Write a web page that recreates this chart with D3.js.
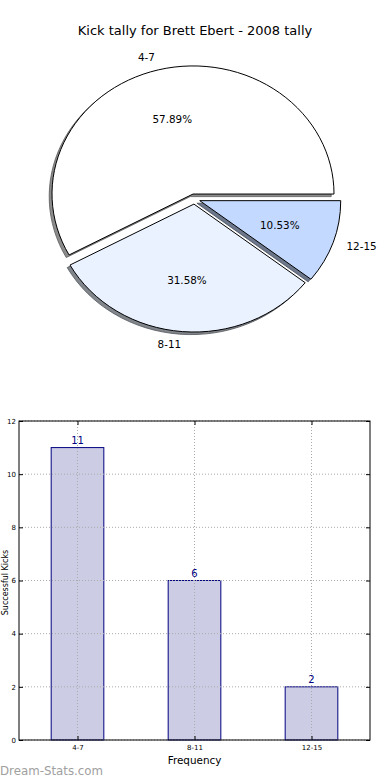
<!DOCTYPE html>
<html><head><meta charset="utf-8">
<script src="https://cdn.jsdelivr.net/npm/d3@7"></script>
<style>body{margin:0;background:#fff}svg{display:block}text{font-family:"DejaVu Sans",sans-serif}</style>
</head><body>
<svg id="c" width="390" height="780"></svg>
<script>
const categories = ["4-7", "8-11", "12-15"];
const values = [11, 6, 2];
const pieColors = ["#ffffff", "#ebf2ff", "#c4d9ff"];
const yTicks = [0, 2, 4, 6, 8, 10, 12];
const title = "Kick tally for Brett Ebert - 2008 tally";

const svg = d3.select("#c");

// ---------- Pie ----------
const cx = 194.4, cy = 199, rx = 141, ry = 128, explode = 0.04;
svg.append("text").attr("x", 195).attr("y", 35).attr("text-anchor", "middle")
  .attr("font-size", 13).attr("fill", "#000").text(title);

const pie = d3.pie().sort(null).startAngle(Math.PI / 2).endAngle(Math.PI / 2 - 2 * Math.PI);
const arcs = pie(values);
const arc = d3.arc().innerRadius(0).outerRadius(1);
const total = d3.sum(values);

const slices = arcs.map((a, i) => {
  const mid = (a.startAngle + a.endAngle) / 2;
  const ux = Math.sin(mid), uy = -Math.cos(mid);
  const tx = cx + explode * ux * rx, ty = cy + explode * uy * ry;
  return {a, i, ux, uy, tx, ty};
});

const gShadow = svg.append("g");
const gPie = svg.append("g");
slices.forEach(s => {
  const c = d3.rgb(pieColors[s.i]);
  gShadow.append("path").attr("d", arc(s.a))
    .attr("transform", `translate(${s.tx - 0.02 * rx},${s.ty + 0.02 * ry}) scale(${rx},${ry})`)
    .attr("fill", d3.rgb(c.r * 0.55, c.g * 0.55, c.b * 0.55))
    .attr("stroke", d3.rgb(c.r * 0.35, c.g * 0.35, c.b * 0.35)).attr("stroke-width", 0.8)
    .attr("vector-effect", "non-scaling-stroke");
});
slices.forEach(s => {
  gPie.append("path").attr("d", arc(s.a))
    .attr("transform", `translate(${s.tx},${s.ty}) scale(${rx},${ry})`)
    .attr("fill", pieColors[s.i]).attr("stroke", "#000").attr("stroke-width", 1)
    .attr("vector-effect", "non-scaling-stroke").attr("stroke-linejoin", "miter");
});
slices.forEach(s => {
  const lx = s.tx + 1.1 * s.ux * rx, ly = s.ty + 1.1 * s.uy * ry;
  svg.append("text").attr("x", lx).attr("y", ly).attr("dy", "0.35em")
    .attr("text-anchor", s.ux < 0 ? "end" : "start").attr("font-size", 10.4)
    .text(categories[s.i]);
  const px = s.tx + 0.6 * s.ux * rx, py = s.ty + 0.6 * s.uy * ry;
  svg.append("text").attr("x", px).attr("y", py).attr("dy", "0.35em")
    .attr("text-anchor", "middle").attr("font-size", 10.4)
    .text((values[s.i] / total * 100).toFixed(2) + "%");
});

// ---------- Bar chart ----------
const L = 19, R = 370, T = 421, B = 740;
const x = d3.scaleLinear().domain([-0.5, 2.5]).range([L, R]);
const y = d3.scaleLinear().domain([0, 12]).range([B, T]);
const bw = 0.45;
const g = svg.append("g");

// bars
g.selectAll(".bar").data(values).enter().append("rect")
  .attr("x", (d, i) => x(i - bw / 2)).attr("width", x(bw) - x(0))
  .attr("y", d => y(d)).attr("height", d => B - y(d))
  .attr("fill", "#ccccе4".replace("е", "e")).attr("stroke", "#000080").attr("stroke-width", 1);

// grid
g.selectAll(".gx").data(categories).enter().append("line")
  .attr("x1", (d, i) => x(i)).attr("x2", (d, i) => x(i)).attr("y1", T).attr("y2", B)
  .attr("stroke", "#aaaaaa").attr("stroke-dasharray", "1,2");
g.selectAll(".gy").data(yTicks).enter().append("line")
  .attr("x1", L).attr("x2", R).attr("y1", d => y(d)).attr("y2", d => y(d))
  .attr("stroke", "#aaaaaa").attr("stroke-dasharray", "1,2");

// value labels
g.selectAll(".vl").data(values).enter().append("text")
  .attr("x", (d, i) => x(i)).attr("y", d => y(d) - 4).attr("text-anchor", "middle")
  .attr("font-size", 10).attr("fill", "#000080").text(d => d);

// frame
g.append("rect").attr("x", L).attr("y", T).attr("width", R - L).attr("height", B - T)
  .attr("fill", "none").attr("stroke", "#000").attr("stroke-width", 1);

// axes
const yAxis = d3.axisLeft(y).tickValues(yTicks).tickSize(-4).tickPadding(3);
const ga = svg.append("g").attr("transform", `translate(${L},0)`).call(yAxis);
ga.select(".domain").remove();
ga.selectAll("text").attr("font-size", 7).attr("font-family", "DejaVu Sans");
const yAxisR = d3.axisRight(y).tickValues(yTicks).tickSize(-4).tickFormat("");
const gar = svg.append("g").attr("transform", `translate(${R},0)`).call(yAxisR);
gar.select(".domain").remove();

const xAxis = d3.axisBottom(x).tickValues([0, 1, 2]).tickFormat(i => categories[i]).tickSize(-4).tickPadding(5);
const gx = svg.append("g").attr("transform", `translate(0,${B})`).call(xAxis);
gx.select(".domain").remove();
gx.selectAll("text").attr("font-size", 7).attr("font-family", "DejaVu Sans");
const xAxisT = d3.axisTop(x).tickValues([0, 1, 2]).tickSize(-4).tickFormat("");
const gxt = svg.append("g").attr("transform", `translate(0,${T})`).call(xAxisT);
gxt.select(".domain").remove();

svg.append("text").attr("x", (L + R) / 2).attr("y", 764).attr("text-anchor", "middle")
  .attr("font-size", 10.4).text("Frequency");
svg.append("text").attr("transform", `translate(8,${(T + B) / 2 + 2}) rotate(-90)`)
  .attr("text-anchor", "middle").attr("font-size", 8).text("Successful Kicks");

svg.append("text").attr("x", 0).attr("y", 775).attr("font-size", 11.8)
  .attr("fill", "#a0a0a0").text("Dream-Stats.com");
</script>
</body></html>
